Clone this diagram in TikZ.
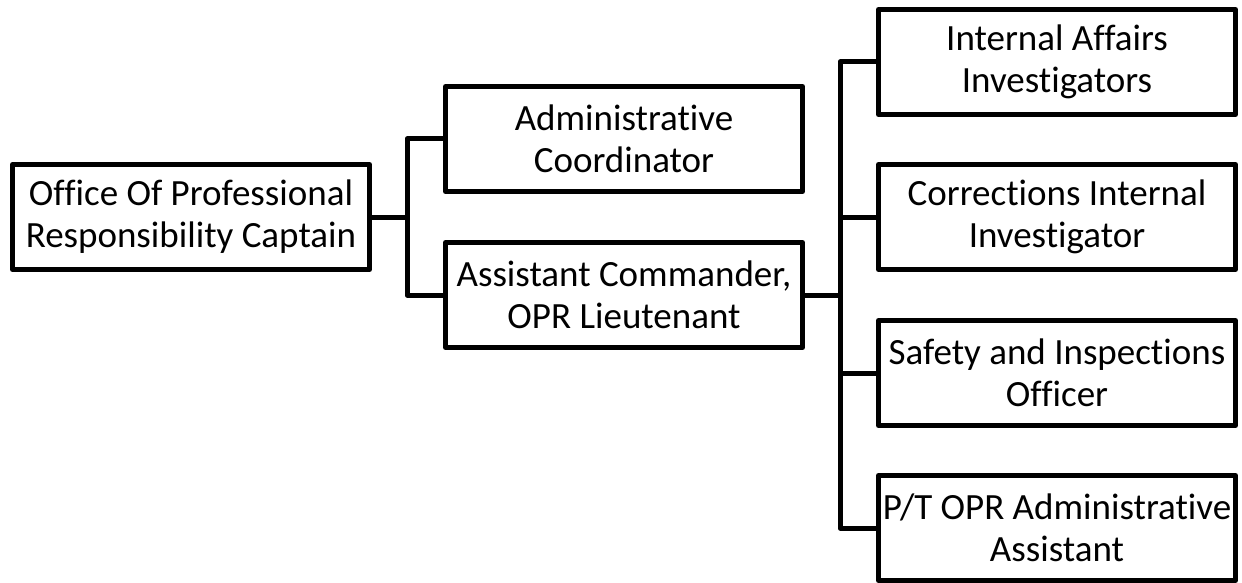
\documentclass[tikz,border=0pt]{standalone}
\usepackage{fontspec}
\setmainfont{Carlito}[Ligatures={NoCommon}]
\begin{document}
\begin{tikzpicture}[x=1pt,y=-1pt,
  box/.style={draw=black,line width=5pt,line join=round,minimum width=357pt,minimum height=105pt,inner sep=0pt,outer sep=0pt,align=center,font=\fontsize{37}{42}\selectfont},
  conn/.style={draw=black,line width=5pt,line join=round}]
\useasboundingbox (0,0) rectangle (1242,583);
\node[box] (cap) at (191,217) {Office Of Professional\\Responsibility Captain};
\node[box] (adm) at (624,139) {Administrative\\Coordinator};
\node[box] (ast) at (624,295) {Assistant Commander,\\OPR Lieutenant};
\node[box] (ia) at (1057,62) {Internal Affairs\\Investigators};
\node[box] (ci) at (1057,217) {Corrections Internal\\Investigator};
\node[box] (so) at (1057,373) {Safety and Inspections\\Officer};
\node[box] (pt) at (1057,528) {P/T OPR Administrative\\Assistant};
\coordinate (b1) at (407,217);
\coordinate (b2) at (840,295);
\draw[conn] (cap.east) -- (b1);
\draw[conn] (adm.west) -| (b1) |- (ast.west);
\draw[conn] (ast.east) -- (b2);
\draw[conn] (ia.west) -| (b2) |- (pt.west);
\draw[conn] (ci.west) -- (ci.west -| b2);
\draw[conn] (so.west) -- (so.west -| b2);
\end{tikzpicture}
\end{document}
